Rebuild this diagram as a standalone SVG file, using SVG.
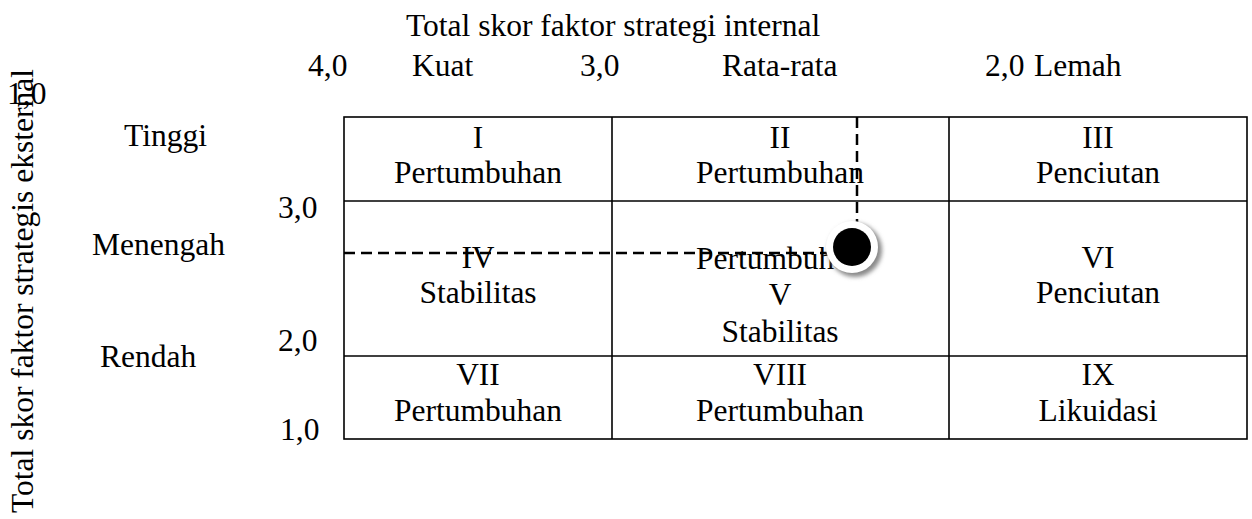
<svg xmlns="http://www.w3.org/2000/svg" width="1252" height="519" viewBox="0 0 1252 519">
<defs>
<style>
text{font-family:"Liberation Serif","Times New Roman",serif;font-size:31.5px;fill:#000}
.c{text-anchor:middle}
.g{stroke:#000;stroke-width:1.6;fill:none}
.d{stroke:#000;stroke-width:2.5;fill:none;stroke-dasharray:11 6}
</style>
<filter id="sh" x="-50%" y="-50%" width="200%" height="200%"><feGaussianBlur stdDeviation="2"/></filter>
</defs>
<rect width="1252" height="519" fill="#fff"/>
<g id="axis-top">
<text x="406" y="36">Total skor faktor strategi internal</text>
<text x="308" y="76">4,0</text>
<text x="412" y="76">Kuat</text>
<text x="580" y="76">3,0</text>
<text x="722" y="76">Rata-rata</text>
<text x="985" y="76">2,0</text>
<text x="1034" y="76">Lemah</text>
</g>
<g id="axis-left">
<text transform="rotate(-90 33 513)" x="33" y="513">Total skor faktor strategis eksternal</text>
<text x="7" y="104">1,0</text>
<text x="124" y="146">Tinggi</text>
<text x="92" y="255">Menengah</text>
<text x="100" y="367">Rendah</text>
<text x="278" y="218">3,0</text>
<text x="278" y="351">2,0</text>
<text x="280" y="440">1,0</text>
</g>
<g id="grid">
<rect class="g" x="344" y="117" width="903" height="322"/>
<line class="g" x1="344" y1="201" x2="1247" y2="201"/>
<line class="g" x1="344" y1="356" x2="1247" y2="356"/>
<line class="g" x1="612" y1="117" x2="612" y2="439"/>
<line class="g" x1="949" y1="117" x2="949" y2="439"/>
</g>
<g id="cell-1"><text class="c" x="478" y="148">I</text><text class="c" x="478" y="183">Pertumbuhan</text></g>
<g id="cell-2"><text class="c" x="780" y="148">II</text><text class="c" x="780" y="183">Pertumbuhan</text></g>
<g id="cell-3"><text class="c" x="1098" y="148">III</text><text class="c" x="1098" y="183">Penciutan</text></g>
<g id="cell-4"><text class="c" x="478" y="268">IV</text><text class="c" x="478" y="303">Stabilitas</text></g>
<g id="cell-5"><text class="c" x="780" y="269">Pertumbuhan</text><text class="c" x="780" y="305">V</text><text class="c" x="780" y="342">Stabilitas</text></g>
<g id="cell-6"><text class="c" x="1098" y="268">VI</text><text class="c" x="1098" y="303">Penciutan</text></g>
<g id="cell-7"><text class="c" x="478" y="385">VII</text><text class="c" x="478" y="421">Pertumbuhan</text></g>
<g id="cell-8"><text class="c" x="780" y="385">VIII</text><text class="c" x="780" y="421">Pertumbuhan</text></g>
<g id="cell-9"><text class="c" x="1098" y="385">IX</text><text class="c" x="1098" y="421">Likuidasi</text></g>
<g id="connectors">
<line class="d" x1="344" y1="253" x2="835" y2="253"/>
<line class="d" x1="857" y1="117" x2="857" y2="225"/>
</g>
<g id="point">
<circle cx="855" cy="250" r="27" fill="#8a8a8a" filter="url(#sh)"/>
<circle cx="852" cy="247" r="26" fill="#fff"/>
<circle cx="852" cy="247" r="19" fill="#000"/>
</g>
</svg>
